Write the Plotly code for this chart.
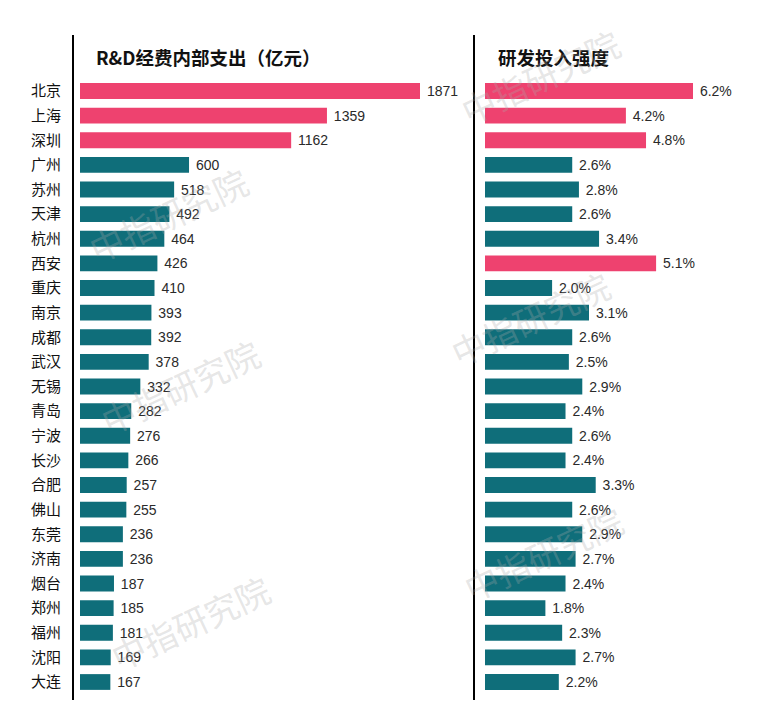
import plotly.graph_objects as go

cities = ["北京", "上海", "深圳", "广州", "苏州", "天津", "杭州", "西安", "重庆", "南京",
          "成都", "武汉", "无锡", "青岛", "宁波", "长沙", "合肥", "佛山", "东莞", "济南",
          "烟台", "郑州", "福州", "沈阳", "大连"]
rd_spend = [1871, 1359, 1162, 600, 518, 492, 464, 426, 410, 393,
            392, 378, 332, 282, 276, 266, 257, 255, 236, 236,
            187, 185, 181, 169, 167]
rd_intensity = [6.2, 4.2, 4.8, 2.6, 2.8, 2.6, 3.4, 5.1, 2.0, 3.1,
                2.6, 2.5, 2.9, 2.4, 2.6, 2.4, 3.3, 2.6, 2.9, 2.7,
                2.4, 1.8, 2.3, 2.7, 2.2]
left_highlight = ["北京", "上海", "深圳"]
right_highlight = ["北京", "上海", "深圳", "西安"]

title_left = "R&D经费内部支出（亿元）"
title_right = "研发投入强度"
watermark = "中指研究院"

PINK = "#EE426F"
TEAL = "#0F6E7A"
W, H = 758, 708

n = len(cities)
top_px, bot_px = 35, 700
first_center, last_center = 91, 682
row_px = (last_center - first_center) / (n - 1)
y_top = -(first_center - top_px) / row_px
y_bot = (n - 1) + (bot_px - last_center) / row_px

label_font = dict(family="Liberation Sans, Arial", size=14, color="#2a2a2a")

fig = go.Figure()
fig.add_trace(go.Bar(
    y=cities, x=rd_spend, orientation="h", xaxis="x", yaxis="y",
    marker=dict(color=[PINK if c in left_highlight else TEAL for c in cities], line=dict(width=0)),
    width=0.64,
    text=[f" {v}" for v in rd_spend], textposition="outside", cliponaxis=False,
    constraintext="none", textfont=label_font,
    showlegend=False, hoverinfo="skip",
))
fig.add_trace(go.Bar(
    y=cities, x=rd_intensity, orientation="h", xaxis="x2", yaxis="y2",
    marker=dict(color=[PINK if c in right_highlight else TEAL for c in cities], line=dict(width=0)),
    width=0.64,
    text=[f" {v:.1f}%" for v in rd_intensity], textposition="outside", cliponaxis=False,
    constraintext="none", textfont=label_font,
    showlegend=False, hoverinfo="skip",
))

left_scale = 340 / 1871
right_scale = 208 / 6.2
x1_dom = (80, 460)
x2_dom = (485, 745)

ydom = [(H - bot_px) / H, (H - top_px) / H]
yaxis_common = dict(
    type="category", categoryorder="array", categoryarray=cities,
    range=[y_bot, y_top], domain=ydom, showgrid=False, zeroline=False,
    showline=True, linecolor="black", linewidth=2, ticks="", anchor="free",
    fixedrange=True,
)

fig.update_layout(
    width=W, height=H,
    margin=dict(l=0, r=0, t=0, b=0),
    paper_bgcolor="white", plot_bgcolor="rgba(0,0,0,0)",
    font=dict(family="Noto Sans CJK SC, sans-serif", color="#111"),
    xaxis=dict(domain=[x1_dom[0] / W, x1_dom[1] / W], range=[0, (x1_dom[1] - x1_dom[0]) / left_scale],
               visible=False, anchor="y", fixedrange=True),
    xaxis2=dict(domain=[x2_dom[0] / W, x2_dom[1] / W], range=[0, (x2_dom[1] - x2_dom[0]) / right_scale],
                visible=False, anchor="y2", fixedrange=True),
    yaxis=dict(**yaxis_common, position=73 / W, showticklabels=True, ticklabelstandoff=8,
               tickfont=dict(family="Noto Sans CJK SC", size=15, color="#111")),
    yaxis2=dict(**yaxis_common, position=474 / W, showticklabels=False),
)

annotations = [
    dict(text=f"<b>{title_left}</b>", x=94 / W, y=(H - 57) / H, xref="paper", yref="paper",
         xanchor="left", yanchor="middle", showarrow=False,
         font=dict(family="Noto Sans CJK SC", size=18.5, color="#111")),
    dict(text=f"<b>{title_right}</b>", x=496 / W, y=(H - 57) / H, xref="paper", yref="paper",
         xanchor="left", yanchor="middle", showarrow=False,
         font=dict(family="Noto Sans CJK SC", size=18.5, color="#111")),
]
wm_pos = [(168, 214), (180, 386), (190, 622), (540, 76), (530, 318), (543, 553)]
for (px, py) in wm_pos:
    annotations.append(dict(text=watermark, x=px / W, y=(H - py) / H, xref="paper", yref="paper",
                            xanchor="center", yanchor="middle", showarrow=False, textangle=-25,
                            font=dict(family="Noto Sans CJK SC", size=34, color="rgba(170,170,170,0.3)")))
fig.update_layout(annotations=annotations)

fig.write_html("out.html", config={"displayModeBar": False},
               post_script="document.body.style.margin='0';document.body.style.overflow='hidden';")
